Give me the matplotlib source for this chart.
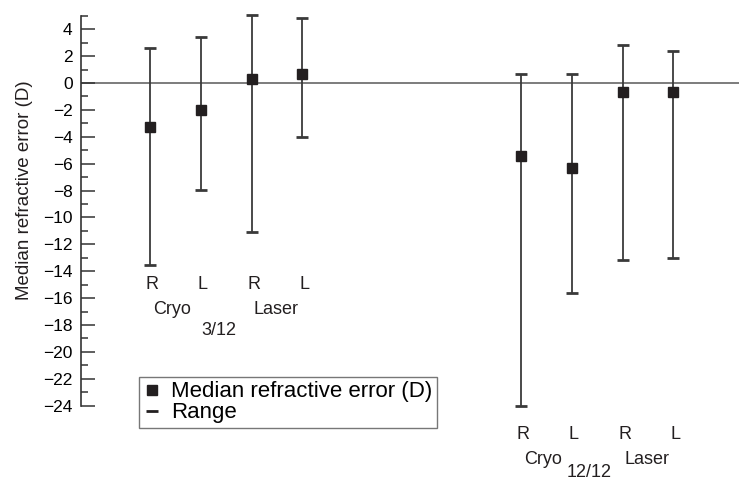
import numpy as np
import matplotlib
matplotlib.use("Agg")
from matplotlib import pyplot as plt
from matplotlib.lines import Line2D
from matplotlib.ticker import MultipleLocator

plt.rcParams['font.family'] = ['Liberation Sans', 'DejaVu Sans']

# data (dioptres)
eyes = ['R', 'L', 'R', 'L']
groups = ['3/12', '12/12']

median_3 = [-3.3, -2.0, 0.3, 0.7]
high_3 = [2.6, 3.4, 5.05, 4.85]
low_3 = [-13.55, -7.95, -11.05, -4.0]

median_12 = [-5.4, -6.35, -0.7, -0.7]
high_12 = [0.65, 0.65, 2.8, 2.4]
low_12 = [-24.0, -15.6, -13.2, -13.05]

# layout
x_3 = np.arange(4) + 1.0
x_12 = np.arange(4) + 8.3
ink = '#231f20'
line_col = '#3a3a3a'

fig = plt.figure(figsize=(7.39, 4.82), dpi=100)
ax = fig.add_axes([0.1096, 0.1583, 0.8904, 0.8091])

for xs, med, hi, lo in [(x_3, median_3, high_3, low_3),
                        (x_12, median_12, high_12, low_12)]:
    med = np.array(med)
    yerr = [med - np.array(lo), np.array(hi) - med]
    ax.errorbar(xs, med, yerr=yerr, fmt='s', color=ink, ms=7.2,
                ecolor=line_col, elinewidth=1.3, capsize=4.2, capthick=2,
                clip_on=False, zorder=3)

ax.axhline(0, color='#666666', lw=1.2, zorder=1)

ax.set_xlim(-0.358, 12.59)
ax.set_ylim(-24, 5)
ax.yaxis.set_major_locator(MultipleLocator(2))
ax.yaxis.set_minor_locator(MultipleLocator(1))
ax.set_yticks(np.arange(-24, 5, 2))
ax.tick_params(axis='y', which='major', direction='in', length=10,
               width=1.1, color='#333333', labelsize=12.5, pad=6)
ax.tick_params(axis='y', which='minor', direction='in', length=5,
               width=1.1, color='#333333')
ax.set_xticks([])
for s in ['top', 'right', 'bottom']:
    ax.spines[s].set_visible(False)
ax.spines['left'].set_color('#333333')
ax.spines['left'].set_linewidth(1.2)

# category labels under each group
for xs, grp, dy, gy in [(x_3, groups[0], 0.0, -18.75),
                        (x_12, groups[1], -11.1, -29.3)]:
    for x, e in zip(xs, eyes):
        ax.text(x + 0.04, -15.35 + dy, e, ha='center', va='baseline',
                fontsize=13, color=ink)
    ax.text(xs[0] + 0.43, -17.2 + dy, 'Cryo', ha='center', va='baseline',
            fontsize=13, color=ink)
    ax.text(xs[0] + 2.47, -17.2 + dy, 'Laser', ha='center', va='baseline',
            fontsize=13, color=ink)
    ax.text(xs[0] + 1.35, gy, grp, ha='center', va='baseline',
            fontsize=13, color=ink)

fig.text(25 / 739, 1 - 190 / 482, 'Median refractive error (D)',
         rotation=90, ha='center', va='center', fontsize=13.5, color=ink)

handles = [Line2D([], [], ls='none', marker='s', color=ink, ms=7),
           Line2D([], [], ls='none', marker='_', color=ink, ms=8, mew=2)]
leg = fig.legend(handles, ['Median refractive error (D)', 'Range'],
                 loc='upper left', bbox_to_anchor=(139 / 739, 1 - 377 / 482),
                 frameon=True, fancybox=False, fontsize=16,
                 handlelength=0.75, handletextpad=0.5, borderpad=0.2,
                 labelspacing=0.0, borderaxespad=0)
leg.get_frame().set_edgecolor('#555555')
leg.get_frame().set_linewidth(1.0)

fig.savefig('out.png', dpi=100)
